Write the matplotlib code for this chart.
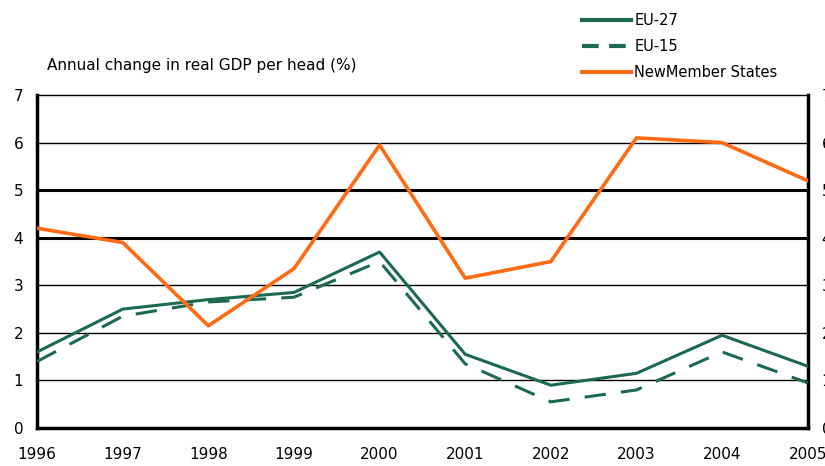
import numpy as np
import matplotlib.pyplot as plt
from matplotlib.lines import Line2D

years = [1996, 1997, 1998, 1999, 2000, 2001, 2002, 2003, 2004, 2005]
eu27 = [1.6, 2.5, 2.7, 2.85, 3.7, 1.55, 0.9, 1.15, 1.95, 1.3]
eu15 = [1.4, 2.35, 2.65, 2.75, 3.5, 1.35, 0.55, 0.8, 1.6, 0.95]
nms = [4.2, 3.9, 2.15, 3.35, 5.95, 3.15, 3.5, 6.1, 6.0, 5.2]

green = '#1b6a50'
orange = '#ff6a13'

fig = plt.figure(figsize=(8.25, 4.66), dpi=100)
ax = fig.add_axes([0.045, 0.0815, 0.934, 0.7145])

# Gridlines drawn behind the series.
for v in range(1, 7):
    lw = 2.2 if v in (4, 5) else 1.0
    ax.axhline(v, color='black', lw=lw, zorder=1)

ax.plot(years, eu27, color=green, lw=2.2, zorder=3)
ax.plot(years, eu15, color=green, lw=2.2, dashes=(7, 5), zorder=3)
ax.plot(years, nms, color=orange, lw=2.6, zorder=3)

ax.set_xlim(1996, 2005)
ax.set_ylim(0, 7)
ax.set_xticks(years)
ax.set_xticklabels([str(y) for y in years], fontsize=10.5, family='Liberation Sans Narrow')
ax.set_yticks(range(0, 8))
ax.tick_params(axis='both', length=0, labelsize=11)
ax.tick_params(axis='x', pad=14)
ax.tick_params(axis='y', pad=10, labelright=True)

ax.spines['top'].set_linewidth(1.0)
for side in ['left', 'right', 'bottom']:
    ax.spines[side].set_linewidth(2.5)

fig.text(0.057, 0.86, 'Annual change in real GDP per head (%)', fontsize=11,
         family='Liberation Sans Narrow', ha='left', va='center')

handles = [
    Line2D([0], [0], color=green, lw=3),
    Line2D([0], [0], color=green, lw=3, dashes=(4, 2.5)),
    Line2D([0], [0], color=orange, lw=3),
]
labels = ['EU-27', 'EU-15', 'NewMember States']
fig.legend(handles, labels, loc='upper left', bbox_to_anchor=(0.69, 1.0),
           frameon=False, handlelength=3.3, handletextpad=0.25,
           labelspacing=0.75, prop={'family': 'Liberation Sans Narrow', 'size': 10.5})

fig.savefig('out.png', dpi=100)
